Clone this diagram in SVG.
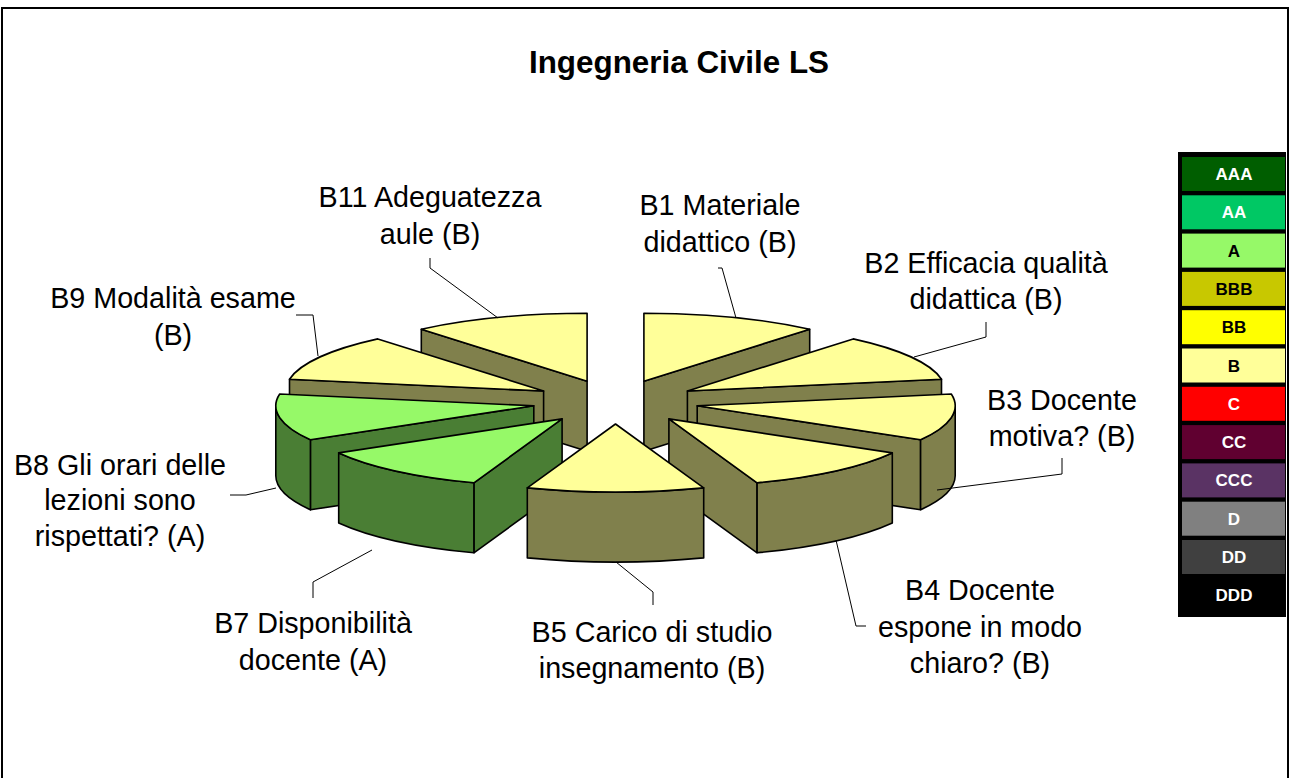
<svg xmlns="http://www.w3.org/2000/svg" width="1290" height="778" viewBox="0 0 1290 778">
<style>
.top{fill:#FFFF99;stroke:#000;stroke-width:1.6;stroke-linejoin:round}
.side{fill:#80804C;stroke:#000;stroke-width:1.6;stroke-linejoin:round}
.gtop{fill:#96F968;stroke:#000;stroke-width:1.6;stroke-linejoin:round}
.gside{fill:#4A7E34;stroke:#000;stroke-width:1.6;stroke-linejoin:round}
.lbl{font-family:"Liberation Sans",Arial,sans-serif;font-size:28.7px;fill:#000;text-anchor:middle}
.lead{fill:none;stroke:#000;stroke-width:1}
.lg{font-family:"Liberation Sans",Arial,sans-serif;font-size:17px;font-weight:bold;text-anchor:middle}
</style>
<rect x="0" y="0" width="1290" height="778" fill="#fff"/>
<path d="M2,790 V8 H1288 V790" fill="none" stroke="#000" stroke-width="2"/>
<text x="679" y="73" font-family="'Liberation Sans',Arial,sans-serif" font-size="31.4" font-weight="bold" text-anchor="middle">Ingegneria Civile LS</text>

<g id="B11">
<path class="side" d="M587.1,381.3 L421.3,329.2 L421.3,399.2 L587.1,451.3 Z"/>
<path class="top" d="M587.1,381.3 L421.3,329.2 A258,68 0 0 1 587.1,313.3 Z"/>
<text class="lbl" x="430" y="207">B11 Adeguatezza</text>
<text class="lbl" x="430" y="244">aule (B)</text>
</g>
<g id="B1">
<path class="side" d="M643.9,381.3 L809.7,329.2 L809.7,399.2 L643.9,451.3 Z"/>
<path class="top" d="M643.9,381.3 L643.9,313.3 A258,68 0 0 1 809.7,329.2 Z"/>
<text class="lbl" x="720" y="215">B1 Materiale</text>
<text class="lbl" x="720" y="252">didattico (B)</text>
</g>
<g id="B9">
<path class="side" d="M543.6,391 L289.5,379.2 L289.5,449.2 L543.6,461 Z"/>
<path class="top" d="M543.6,391 L289.5,379.2 A258,68 0 0 1 377.8,338.9 Z"/>
<text class="lbl" x="173" y="308">B9 Modalità esame</text>
<text class="lbl" x="173" y="345">(B)</text>
</g>
<g id="B2">
<path class="side" d="M687.4,391 L941.5,379.2 L941.5,449.2 L687.4,461 Z"/>
<path class="top" d="M687.4,391 L853.2,338.9 A258,68 0 0 1 941.5,379.2 Z"/>
<text class="lbl" x="986" y="273">B2 Efficacia qualità</text>
<text class="lbl" x="986" y="309">didattica (B)</text>
</g>
<g id="B8">
<path class="gside" d="M533.8,405.8 L310.4,439.8 L310.4,509.8 L533.8,475.8 Z"/>
<path class="gside" d="M310.4,439.8 A258,68 0 0 1 275.8,405.8 L275.8,475.8 A258,68 0 0 0 310.4,509.8 Z"/>
<path class="gtop" d="M533.8,405.8 L310.4,439.8 A258,68 0 0 1 279.7,394 Z"/>
<text class="lbl" x="120" y="475">B8 Gli orari delle</text>
<text class="lbl" x="120" y="510">lezioni sono</text>
<text class="lbl" x="120" y="546">rispettati? (A)</text>
</g>
<g id="B3">
<path class="side" d="M697.2,405.8 L920.6,439.8 L920.6,509.8 L697.2,475.8 Z"/>
<path class="side" d="M955.2,405.8 A258,68 0 0 1 920.6,439.8 L920.6,509.8 A258,68 0 0 0 955.2,475.8 Z"/>
<path class="top" d="M697.2,405.8 L951.3,394 A258,68 0 0 1 920.6,439.8 Z"/>
<text class="lbl" x="1062" y="410">B3 Docente</text>
<text class="lbl" x="1062" y="446">motiva? (B)</text>
</g>
<g id="B7">
<path class="gside" d="M562.1,418.9 L473.9,482.8 L473.9,552.8 L562.1,488.9 Z"/>
<path class="gside" d="M473.9,482.8 A258,68 0 0 1 338.7,452.9 L338.7,522.9 A258,68 0 0 0 473.9,552.8 Z"/>
<path class="gtop" d="M562.1,418.9 L473.9,482.8 A258,68 0 0 1 338.7,452.9 Z"/>
<text class="lbl" x="313" y="633">B7 Disponibilità</text>
<text class="lbl" x="313" y="670">docente (A)</text>
</g>
<g id="B4">
<path class="side" d="M668.9,418.9 L757.1,482.8 L757.1,552.8 L668.9,488.9 Z"/>
<path class="side" d="M892.3,452.9 A258,68 0 0 1 757.1,482.8 L757.1,552.8 A258,68 0 0 0 892.3,522.9 Z"/>
<path class="top" d="M668.9,418.9 L892.3,452.9 A258,68 0 0 1 757.1,482.8 Z"/>
<text class="lbl" x="980" y="600">B4 Docente</text>
<text class="lbl" x="980" y="637">espone in modo</text>
<text class="lbl" x="980" y="673">chiaro? (B)</text>
</g>
<g id="B5">
<path class="side" d="M703.7,487.9 A258,68 0 0 1 527.3,487.9 L527.3,557.9 A258,68 0 0 0 703.7,557.9 Z"/>
<path class="top" d="M615.5,424 L703.7,487.9 A258,68 0 0 1 527.3,487.9 Z"/>
<text class="lbl" x="652" y="642">B5 Carico di studio</text>
<text class="lbl" x="652" y="678">insegnamento (B)</text>
</g>

<g id="connectors">
<path class="lead" d="M430,258 V268 L498,318"/>
<path class="lead" d="M718,268 H722 L736,318"/>
<path class="lead" d="M986,322 V337 L914,357"/>
<path class="lead" d="M1062,458 V474 L937,490"/>
<path class="lead" d="M836,540 L856,626 H866"/>
<path class="lead" d="M653,605 V592 L616,562"/>
<path class="lead" d="M313,598 V582 L372,550"/>
<path class="lead" d="M230,495 H246 L276,488"/>
<path class="lead" d="M296,315 H313 L318,356"/>
</g>

<g id="legend">
<rect x="1178" y="152" width="108" height="465" fill="#000"/>
<rect x="1182" y="157" width="103" height="34" fill="#005E00"/>
<text class="lg" x="1234" y="180" fill="#fff">AAA</text>
<rect x="1182" y="195.3" width="103" height="34" fill="#00C864"/>
<text class="lg" x="1234" y="218.3" fill="#fff">AA</text>
<rect x="1182" y="233.6" width="103" height="34" fill="#96F968"/>
<text class="lg" x="1234" y="256.6" fill="#000">A</text>
<rect x="1182" y="271.9" width="103" height="34" fill="#C8C800"/>
<text class="lg" x="1234" y="294.9" fill="#000">BBB</text>
<rect x="1182" y="310.2" width="103" height="34" fill="#FFFF00"/>
<text class="lg" x="1234" y="333.2" fill="#000">BB</text>
<rect x="1182" y="348.5" width="103" height="34" fill="#FFFF99"/>
<text class="lg" x="1234" y="371.5" fill="#000">B</text>
<rect x="1182" y="386.8" width="103" height="34" fill="#FF0000"/>
<text class="lg" x="1234" y="409.8" fill="#fff">C</text>
<rect x="1182" y="425.1" width="103" height="34" fill="#600030"/>
<text class="lg" x="1234" y="448.1" fill="#fff">CC</text>
<rect x="1182" y="463.4" width="103" height="34" fill="#5A3364"/>
<text class="lg" x="1234" y="486.4" fill="#fff">CCC</text>
<rect x="1182" y="501.7" width="103" height="34" fill="#808080"/>
<text class="lg" x="1234" y="524.7" fill="#fff">D</text>
<rect x="1182" y="540" width="103" height="34" fill="#404040"/>
<text class="lg" x="1234" y="563" fill="#fff">DD</text>
<rect x="1182" y="578.3" width="103" height="34" fill="#000"/>
<text class="lg" x="1234" y="601.3" fill="#fff">DDD</text>
</g>
</svg>
